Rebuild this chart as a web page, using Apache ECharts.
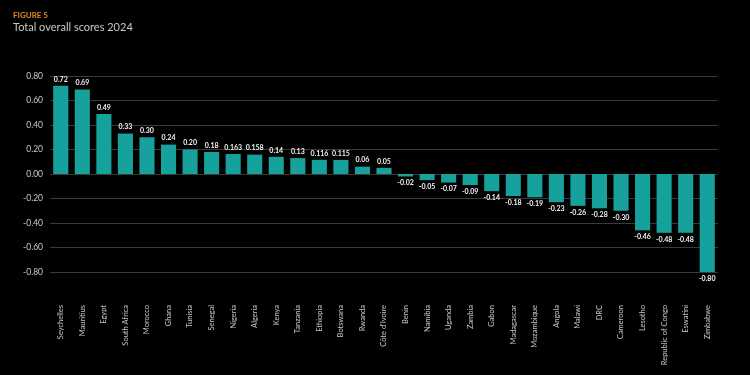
<!DOCTYPE html>
<html lang="en">
<head>
    <meta charset="UTF-8">
    <title>Total overall scores 2024</title>
    <script src="https://cdn.jsdelivr.net/npm/echarts@6/dist/echarts.min.js"></script>
    <style>
        html, body { margin: 0; padding: 0; background: #000; }
    </style>
</head>
<body>
    <div id="main" style="width: 750px;height: 375px"></div>
    <script type="text/javascript">
        // countries, ranked
        var countries = ['Seychelles', 'Mauritius', 'Egypt', 'South Africa', 'Morocco', 'Ghana', 'Tunisia',
            'Senegal', 'Nigeria', 'Algeria', 'Kenya', 'Tanzania', 'Ethiopia', 'Botswana', 'Rwanda',
            "Côte d'Ivoire", 'Benin', 'Namibia', 'Uganda', 'Zambia', 'Gabon', 'Madagascar', 'Mozambique',
            'Angola', 'Malawi', 'DRC', 'Cameroon', 'Lesotho', 'Republic of Congo', 'Eswatini', 'Zimbabwe'];
        var scores = [0.72, 0.69, 0.49, 0.33, 0.30, 0.24, 0.20, 0.18, 0.163, 0.158, 0.14, 0.13, 0.116, 0.115,
            0.06, 0.05, -0.02, -0.05, -0.07, -0.09, -0.14, -0.18, -0.19, -0.23, -0.26, -0.28, -0.30,
            -0.46, -0.48, -0.48, -0.80];
        var yMin = -0.8, yMax = 0.8, yStep = 0.2;

        var myChart = echarts.init(document.getElementById('main'));

        // 3 decimals where the source has them, else 2
        var fmt = function (v) {
            return Math.round(Math.abs(v) * 1000) % 10 !== 0 ? v.toFixed(3) : v.toFixed(2);
        };

        var option = {
            backgroundColor: '#000',
            animation: false,
            title: [{
                text: 'FIGURE 5',
                left: 8, top: 6,
                textStyle: { color: '#e08a22', fontSize: 8, fontWeight: 'bold', fontFamily: 'Lato' }
            }, {
                text: 'Total overall scores 2024',
                left: 8, top: 17,
                textStyle: { color: '#c8c8c8', fontSize: 11, fontWeight: 'normal', fontFamily: 'Lato' }
            }],
            grid: { left: 50, right: 32, top: 76, bottom: 103 },
            xAxis: {
                type: 'category',
                data: countries,
                axisLine: { show: false, onZero: false },
                axisTick: { show: false },
                axisLabel: {
                    rotate: 90, margin: 33, interval: 0,
                    color: '#c8c8c8', fontSize: 7.5, fontFamily: 'Lato'
                }
            },
            yAxis: {
                type: 'value',
                min: yMin, max: yMax, interval: yStep,
                axisLine: { show: false },
                axisTick: { show: false },
                splitLine: { lineStyle: { color: '#3a3a3a', width: 1 } },
                axisLabel: {
                    color: '#c8c8c8', fontSize: 8.5, fontFamily: 'Lato', margin: 7,
                    formatter: function (v) { return v.toFixed(2); }
                }
            },
            series: [{
                type: 'bar',
                data: scores,
                barCategoryGap: '30%',
                itemStyle: { color: '#17a19c' },
                label: {
                    show: true,
                    position: 'outside',
                    distance: 3,
                    color: '#f0f0f0',
                    fontSize: 7,
                    fontWeight: 'bold',
                    fontFamily: 'Lato',
                    formatter: function (p) { return fmt(p.value); }
                }
            }]
        };
        myChart.setOption(option);
    </script>
</body>
</html>
